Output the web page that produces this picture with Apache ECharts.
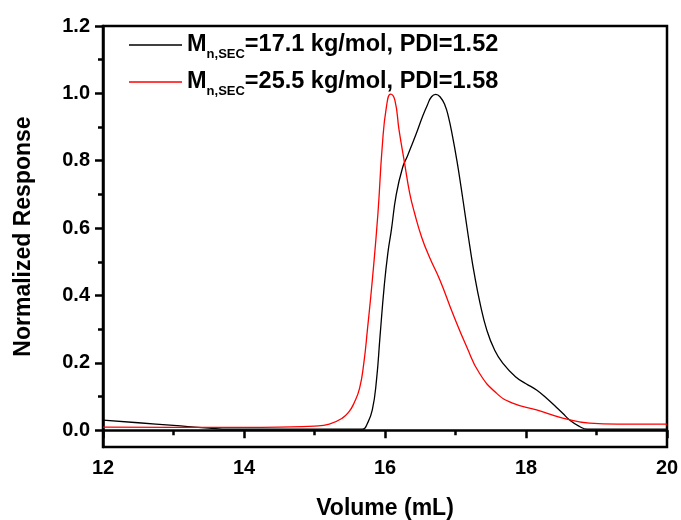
<!DOCTYPE html>
<html>
<head>
<meta charset="utf-8">
<script src="https://cdn.jsdelivr.net/npm/echarts@6/dist/echarts.min.js"></script>
<style>html,body{margin:0;padding:0;background:#fff}#c{width:681px;height:520px}</style>
</head>
<body>
<div id="c"></div>
<script>
// Data
const seriesNames = ['M_n,SEC=17.1 kg/mol, PDI=1.52', 'M_n,SEC=25.5 kg/mol, PDI=1.58'];
const blackX = [12.0,12.5,13.0,13.5,13.8,14.5,15.0,15.5,15.68,15.75,15.82,15.88,15.93,15.99,16.04,16.09,16.16,16.25,16.32,16.39,16.46,16.53,16.60,16.66,16.72,16.78,16.85,16.90,16.96,17.02,17.08,17.14,17.20,17.27,17.35,17.44,17.55,17.67,17.86,18.0,18.15,18.3,18.43,18.52,18.62,18.75,18.87,19.5,20.0];
const blackY = [0.030,0.022,0.014,0.006,0.003,0.003,0.003,0.003,0.003,0.02,0.06,0.15,0.28,0.43,0.525,0.594,0.70,0.78,0.815,0.852,0.89,0.93,0.965,0.99,0.997,0.99,0.965,0.93,0.87,0.80,0.72,0.635,0.55,0.46,0.375,0.30,0.24,0.199,0.157,0.138,0.119,0.093,0.068,0.05,0.03,0.012,0.003,0.003,0.003];
const redX = [12.0,13.0,14.0,14.5,15.0,15.21,15.39,15.49,15.56,15.64,15.70,15.75,15.82,15.90,15.96,16.02,16.08,16.14,16.20,16.28,16.35,16.42,16.52,16.63,16.78,16.96,17.16,17.34,17.58,17.81,18.15,18.52,18.9,19.3,20.0];
const redY = [0.009,0.008,0.008,0.009,0.012,0.018,0.035,0.055,0.08,0.125,0.2,0.297,0.445,0.644,0.84,0.96,0.998,0.98,0.89,0.79,0.704,0.644,0.573,0.514,0.445,0.347,0.247,0.169,0.11,0.08,0.06,0.036,0.021,0.018,0.018];
const yMajor = [0,0.2,0.4,0.6,0.8,1.0,1.2];
const yMinor = [0.1,0.3,0.5,0.7,0.9,1.1];

const F = 'Liberation Sans, Arial, sans-serif';
const zip = (xs, ys) => xs.map((x,i)=>[x, ys[i]]);
const chart = echarts.init(document.getElementById('c'), null, {renderer:'canvas'});
const axisLine = {show:true, lineStyle:{color:'#000', width:2.5}};
chart.setOption({
  animation:false,
  backgroundColor:'#fff',
  grid:{left:103, right:14, top:26, bottom:73, show:true, borderColor:'#000', borderWidth:2.5,
        containLabel:false, outerBoundsMode:'none'},
  xAxis:[{
    type:'value', min:12, max:20, interval:2,
    axisLine: axisLine,
    axisTick:{show:true, inside:false, length:8, lineStyle:{color:'#000', width:2.5}},
    minorTick:{show:true, splitNumber:2, length:5, lineStyle:{color:'#000', width:2.5}},
    splitLine:{show:false},
    axisLabel:{color:'#000', fontFamily:F, fontWeight:'bold', fontSize:20, margin:11},
    name:'Volume (mL)', nameLocation:'middle', nameGap:50,
    nameTextStyle:{color:'#000', fontFamily:F, fontWeight:'bold', fontSize:23}
  }],
  yAxis:[{
    type:'value', min:-0.05, max:1.2,
    axisLine: axisLine,
    axisTick:{show:true, length:8, customValues:yMajor, lineStyle:{color:'#000', width:2.5}},
    axisLabel:{color:'#000', fontFamily:F, fontWeight:'bold', fontSize:20, margin:13, customValues:yMajor,
      formatter:v=>v.toFixed(1)},
    splitLine:{show:false},
    name:'Normalized Response', nameLocation:'middle', nameGap:68,
    nameTextStyle:{color:'#000', fontFamily:F, fontWeight:'bold', fontSize:23}
  },{
    type:'value', min:-0.05, max:1.2, position:'left',
    axisLine:{show:false},
    axisTick:{show:true, length:5, customValues:yMinor, lineStyle:{color:'#000', width:2.5}},
    axisLabel:{show:false},
    splitLine:{show:false}
  }],
  legend:{
    orient:'vertical', left:124, top:28, itemGap:9,
    icon:'rect', itemWidth:53, itemHeight:1.5,
    data:[{name:seriesNames[0], itemStyle:{color:'#000'}},{name:seriesNames[1], itemStyle:{color:'#ff0000'}}],
    formatter: n => {
      const rest = n.split('=').slice(1).join('=');
      return '{m|M}{s|n,SEC}{m|=' + rest + '}';
    },
    textStyle:{
      color:'#000',
      rich:{
        m:{fontFamily:F, fontWeight:'bold', fontSize:23.5, lineHeight:32, color:'#000'},
        s:{fontFamily:F, fontWeight:'bold', fontSize:13, verticalAlign:'bottom', color:'#000'}
      }
    }
  },
  series:[
    {name:seriesNames[0], type:'line', data:zip(blackX, blackY), showSymbol:false, symbol:'none',
     smooth:0.5, lineStyle:{color:'#000', width:1.3}, itemStyle:{color:'#000'}},
    {name:seriesNames[1], type:'line', data:zip(redX, redY), showSymbol:false, symbol:'none',
     smooth:0.5, lineStyle:{color:'#ff0000', width:1.3}, itemStyle:{color:'#ff0000'}}
  ]
});
</script>
</body>
</html>
